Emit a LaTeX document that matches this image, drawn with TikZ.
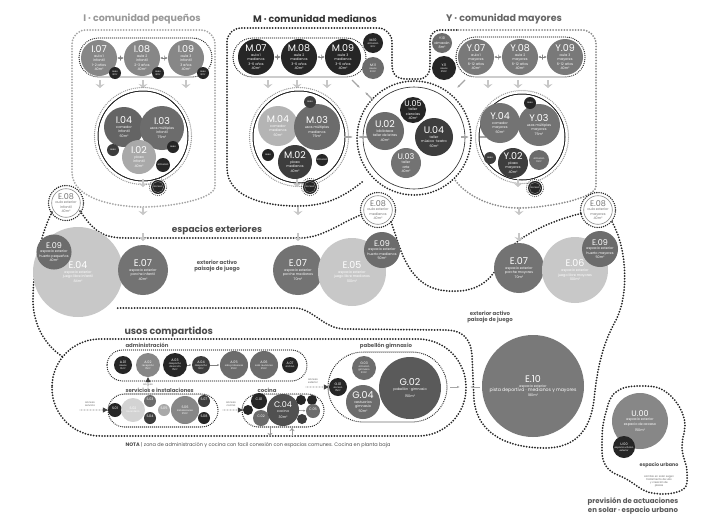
\documentclass[tikz,border=0pt]{standalone}
\usepackage{fontspec}
\setmainfont{Poppins}
\usetikzlibrary{arrows.meta,positioning}
\definecolor{Ink}{HTML}{262626}
\definecolor{Dark}{HTML}{3d3d3d}
\definecolor{Mid}{HTML}{6c6c6c}
\definecolor{Grey}{HTML}{878787}
\definecolor{Light}{HTML}{a9a9a9}
\definecolor{Pale}{HTML}{c8c8c8}
\newcommand{\rlab}[2]{{\fontsize{9.5}{10}\selectfont #1}\\[0.6pt]#2}
\newcommand{\elab}[2]{{\fontsize{8}{8}\selectfont #1}\\[0.4pt]#2}
\newcommand{\slab}[2]{{\fontsize{3.4}{3.8}\selectfont #1}\\#2}
\newcommand{\chev}[2]{\draw[chv] (#1,#2-5) -- (#1,#2+3);}

\begin{document}
\begin{tikzpicture}[x=1pt,y=-1pt,
  room/.style={circle,inner sep=0pt,text=white,align=center,font=\fontsize{3.4}{4.4}\selectfont},
  sm/.style={room,font=\fontsize{2.4}{2.9}\selectfont},
  rad/.style={minimum size=2*#1pt},
  ext/.style={room,fill=white,draw=black!45,line width=0.6pt,text=black!55},
  bnd/.style={draw=Ink,line width=2pt,line cap=round,dash pattern=on 0pt off 2.8pt},
  lbnd/.style={bnd,draw=black!45},
  pil/.style={draw=Ink,line width=1.3pt,line cap=round,dash pattern=on 0pt off 2pt},
  ring/.style={draw=black!40,line width=1.4pt,line cap=round,dash pattern=on 0pt off 2pt},
  chv/.style={-{Stealth[length=4pt,width=9pt]},line width=2pt,draw=black!22},
  link/.style={{Latex[length=2.4pt,width=2.6pt]}-{Latex[length=2.4pt,width=2.6pt]},draw=black!50,line width=0.6pt},
  bar/.style={rectangle,draw=black!50,line width=0.6pt,minimum width=0pt,minimum height=5pt,inner sep=0pt},
  flow/.style={-{Latex[length=3pt]},draw=black!35,line width=1.2pt},
  acc/.style={-{Triangle[length=5pt,width=5pt]},draw=black!75,line width=0.8pt,line cap=round,dash pattern=on 0pt off 1.5pt},
  ttl/.style={font=\fontsize{9.5}{10}\selectfont\bfseries},
  lbl/.style={font=\fontsize{5.4}{6.4}\selectfont\bfseries,text=black!65,align=center},
  tny/.style={font=\fontsize{2.6}{3.1}\selectfont,text=black!60,align=center}
]
\useasboundingbox[fill=white] (0,0) rectangle (701,525);

% ---------- I : comunidad pequenos
\node[ttl,text=black!40] (ttlI) at (142,19) {I · comunidad pequeños};
\draw[lbnd,draw=black!35] (72,172) [rounded corners=14pt] -- (72,30) -- (215,30) -- (215,172) [sharp corners]
  .. controls (215,200) and (168,207) .. (143,207) .. controls (118,207) and (72,200) .. (72,172);
\draw[pil,rounded corners=19.5pt] (79,38) rectangle (212,77);
\node[room,rad=18,fill=Grey] (i07) at (99,58) {\rlab{I.07}{aula 1\\infantil\\1-2 años\\40m²}};
\node[room,rad=18,fill=Grey] (i08) at (142,58) {\rlab{I.08}{aula 2\\infantil\\2-3 años\\40m²}};
\node[room,rad=18,fill=Grey] (i09) at (186,58) {\rlab{I.09}{aula 3\\infantil\\3 años\\40m²}};
\foreach \a/\b in {i07/i08,i08/i09}
  \draw[link] (\a) -- node[bar]{} (\b);
\node[sm,rad=6,fill=Ink] (i10) at (115,73) {aseo\\8m²};
\node[sm,rad=6,fill=Ink] (i11) at (158,73) {aseo\\8m²};
\node[sm,rad=6,fill=Ink] (i12) at (203,73) {aseo\\8m²};
\foreach \x in {100,143,186} \chev{\x}{85}
\draw[Ink,line width=0.5pt] (143,136) circle (45pt);
\draw[ring] (143,136) circle (48.5pt);
\node[room,rad=20,fill=Dark!80] (i04) at (124,127) {\rlab{I.04}{comedor\\infantil\\60m²}};
\node[room,rad=22,fill=Mid] (i03) at (162,128) {\rlab{I.03}{usos múltiples\\infantil\\75m²}};
\node[room,rad=17,fill=Light] (i02) at (139,157) {\rlab{I.02}{plaza\\infantil\\40m²}};
\node[sm,rad=6,fill=Dark] (i05) at (113,150) {aseo};
\node[sm,rad=6,fill=Ink] (i06) at (173,147) {aseo};
\node[sm,rad=7,fill=Ink] (i01) at (163,165) {almacén};
\node[sm,rad=7,fill=Ink] (i13) at (158,187) {acceso};
\draw[white,line width=0.5pt,line cap=round,dash pattern=on 0pt off 1pt] (i13) circle (5.6pt);
\draw[pil,line width=1pt] (i13) circle (8.6pt);
\chev{143}{184}

% ---------- M : comunidad medianos
\node[ttl,text=black!80] (ttlM) at (315,19) {M · comunidad medianos};
\draw[bnd] (362,182) .. controls (340,200) and (322,206) .. (297,206)
  .. controls (262,206) and (227,196) .. (227,168) [rounded corners=14pt] -- (227,28) -- (392,28) [sharp corners]
  -- (392,64) .. controls (392,74) and (396,79) .. (406,79) -- (418,79)
  .. controls (426,79) and (430,74) .. (430,66) [rounded corners=10pt] -- (430,30) -- (458,30);
\draw[pil,rounded corners=19.5pt] (233,38) rectangle (366,77);
\node[room,rad=18,fill=Ink] (m07) at (256,57) {\rlab{M.07}{aula 1\\medianos\\3-6 años\\40m²}};
\node[room,rad=18,fill=Ink] (m08) at (299,57) {\rlab{M.08}{aula 2\\medianos\\3-6 años\\40m²}};
\node[room,rad=18,fill=Ink] (m09) at (343,57) {\rlab{M.09}{aula 3\\medianos\\3-6 años\\40m²}};
\foreach \a/\b in {m07/m08,m08/m09}
  \draw[link] (\a) -- node[bar]{} (\b);
\node[sm,rad=10,fill=Ink] (m10) at (373,43) {\slab{M.10}{almacén\\8m²}};
\node[sm,rad=11,fill=Mid] (m11) at (373,68) {\slab{M.11}{aseos\\20m²}};
\foreach \x in {268,297,327} \chev{\x}{85}
\draw[Ink,line width=0.5pt] (299,137) circle (46pt);
\draw[ring] (299,137) circle (49.5pt);
\node[room,rad=20,fill=Pale!90!black] (m04) at (278,126) {\rlab{M.04}{comedor\\medianos\\60m²}};
\node[room,rad=23,fill=Mid] (m03) at (317,127) {\rlab{M.03}{usos múltiples\\medianos\\75m²}};
\node[room,rad=17,fill=Dark] (m02) at (295,162) {\rlab{M.02}{plaza\\medianos\\40m²}};
\node[sm,rad=6,fill=Dark] (m05) at (310,102) {aseo};
\node[sm,rad=6,fill=Ink] (m06) at (268,155) {aseo};
\node[sm,rad=6,fill=Ink] (m01) at (322,160) {almacén};
\node[sm,rad=7,fill=Ink] (m13) at (310,187) {acceso};
\draw[white,line width=0.5pt,line cap=round,dash pattern=on 0pt off 1pt] (m13) circle (5.6pt);
\draw[pil,line width=1pt] (m13) circle (8.6pt);
\chev{297}{184}

% ---------- U : talleres
\draw[bnd] (414,138) circle (57pt);
\draw[Ink,line width=0.6pt] (414,138) circle (51pt);
\node[room,rad=13,fill=Ink] (u05) at (413,110) {\elab{U.05}{taller\\ciencias\\40m²}};
\node[room,rad=19,fill=Mid] (u02) at (385,131) {\rlab{U.02}{biblioteca\\taller de letras\\40m²}};
\node[room,rad=19,fill=Dark] (u04) at (434,137) {\rlab{U.04}{taller\\música · teatro\\60m²}};
\node[room,rad=15,fill=Grey!85!black] (u03) at (406,163) {\elab{U.03}{taller\\arte\\40m²}};
\draw[flow] (352,80) -- (360,88);
\draw[flow] (373,100) -- (365,92);
\draw[flow] (344,137) -- (353,137);
\draw[flow] (367,137) -- (358,137);
\draw[flow] (461,137) -- (469,137);
\draw[flow] (486,137) -- (478,137);
\draw[flow] (465,80) -- (457,88);

% ---------- Y : comunidad mayores
\node[ttl,text=black!60] (ttlY) at (504,19) {Y · comunidad mayores};
\draw[lbnd] (458,30) [rounded corners=14pt] -- (596,30) -- (596,172) [sharp corners]
  .. controls (596,199) and (545,208) .. (518,208) .. controls (495,208) and (468,198) .. (455,180);
\draw[pil,rounded corners=19.5pt] (456,37) rectangle (585,77);
\node[room,rad=10,fill=Mid] (y10) at (442,43) {\slab{Y.10}{almacén\\8m²}};
\node[room,sm,rad=12,fill=Ink] (y11) at (444,68) {\slab{Y.11}{aseos\\25m²}};
\node[room,rad=18,fill=Grey!90!black] (y07) at (476,57) {\rlab{Y.07}{aula 1\\mayores\\6-12 años\\40m²}};
\node[room,rad=18,fill=Grey!90!black] (y08) at (520,57) {\rlab{Y.08}{aula 2\\mayores\\6-12 años\\40m²}};
\node[room,rad=18,fill=Grey!90!black] (y09) at (565,57) {\rlab{Y.09}{aula 3\\mayores\\6-12 años\\40m²}};
\foreach \a/\b in {y07/y08,y08/y09}
  \draw[link] (\a) -- node[bar]{} (\b);
\foreach \x in {488,518,548} \chev{\x}{85}
\draw[Ink,line width=0.5pt] (522,137) circle (43pt);
\draw[ring] (522,137) circle (46.5pt);
\node[room,rad=20,fill=Grey!85!black] (y04) at (500,123) {\rlab{Y.04}{comedor\\mayores\\60m²}};
\node[room,rad=21,fill=Grey!85!black] (y03) at (539,125) {\rlab{Y.03}{usos múltiples\\mayores\\75m²}};
\node[room,rad=15,fill=Dark] (y02) at (513,163) {\rlab{Y.02}{plaza\\mayores\\40m²}};
\node[sm,rad=6,fill=Ink] (y05) at (530,103) {aseo};
\node[sm,rad=6,fill=Dark] (y06) at (490,158) {aseo};
\node[sm,rad=10,fill=Mid] (y01) at (539,160) {almacén\\10m²};
\node[sm,rad=7,fill=Ink] (y13) at (535,188) {acceso};
\draw[white,line width=0.5pt,line cap=round,dash pattern=on 0pt off 1pt] (y13) circle (5.6pt);
\draw[pil,line width=1pt] (y13) circle (8.6pt);
\chev{518}{184}

% ---------- E : espacios exteriores
\node[ttl,font=\fontsize{9}{10}\selectfont\bfseries,text=black!70] (ttlE) at (217,230) {espacios exteriores};
\draw[bnd] (80,211) .. controls (92,228) and (100,238) .. (125,238) -- (300,238)
  .. controls (322,238) and (338,224) .. (363,214);
\draw[bnd] (391,222) .. controls (399,242) and (405,283) .. (440,290)
  .. controls (472,295) and (490,284) .. (500,262) .. controls (510,240) and (545,222) .. (583,213);
\draw[bnd] (612,222) .. controls (626,246) and (630,292) .. (616,320)
  .. controls (602,345) and (597,370) .. (594,400) .. controls (590,432) and (574,448) .. (545,448)
  .. controls (505,448) and (477,432) .. (474,400) -- (472,356)
  .. controls (471,338) and (462,330) .. (445,330) -- (345,329)
  .. controls (324,329) and (312,308) .. (295,308) -- (116,308);
\draw[bnd] (52,212) .. controls (40,236) and (33,270) .. (33,300) .. controls (33,326) and (46,346) .. (63,357);
\foreach \x/\y in {66/203,378/210,598/210}
  \draw[bnd,line width=1.6pt,dash pattern=on 0pt off 2.2pt] (\x,\y) circle (17.5pt);
\node[ext,rad=14] (e08a) at (66,203) {\elab{E.08}{aula exterior\\infantil\\40m²}};
\node[ext,rad=14] (e08b) at (378,210) {\elab{E.08}{aula exterior\\medianos\\40m²}};
\node[ext,rad=14] (e08c) at (598,210) {\elab{E.08}{aula exterior\\mayores\\40m²}};
\node[room,rad=45,fill=Pale] (e04) at (78,272) {\rlab{E.04}{espacio exterior\\juego libre infantil\\84m²}};
\node[room,rad=17,fill=Mid] (e09a) at (54,252) {\elab{E.09}{espacio exterior\\huerto pequeños\\40m²}};
\node[room,rad=25,fill=Grey!85!black] (e07a) at (143,270) {\rlab{E.07}{espacio exterior\\porche infantil\\40m²}};
\node[lbl] (actA) at (217,266) {exterior activo\\paisaje de juego};
\node[room,rad=25,fill=Grey!85!black] (e07b) at (298,270) {\rlab{E.07}{espacio exterior\\porche medianos\\70m²}};
\node[room,rad=34,fill=Pale] (e05) at (352,272) {\rlab{E.05}{espacio exterior\\juego libre medianos\\100m²}};
\node[room,rad=18,fill=Mid] (e09b) at (382,250) {\elab{E.09}{espacio exterior\\huerto medianos\\50m²}};
\node[room,rad=25,fill=Grey!85!black] (e07c) at (519,268) {\rlab{E.07}{espacio exterior\\porche mayores\\70m²}};
\node[room,rad=33,fill=Pale] (e06) at (575,270) {\rlab{E.06}{espacio exterior\\juego libre mayores\\100m²}};
\node[room,rad=18,fill=Mid] (e09c) at (600,249) {\elab{E.09}{espacio exterior\\huerto mayores\\50m²}};
\foreach \x in {143,298,519} {\chev{\x}{212} \chev{\x}{238}}
\node[lbl] (actB) at (490,317) {exterior activo\\paisaje de juego};
\node[room,rad=51,fill=Grey!90!black] (e10) at (533,386) {{\fontsize{9.5}{10}\selectfont E.10}\\[0.6pt]espacio exterior\\{\fontsize{4.6}{5.4}\selectfont pista deportiva · medianos y mayores}\\180m²};

% ---------- espacio urbano
\draw[bnd] plot[smooth cycle,tension=0.7] coordinates {(606,412) (616,392) (640,386) (666,392) (684,418) (682,448) (687,472) (682,490) (652,493) (628,480) (606,466) (602,440)};
\node[room,rad=28,fill=Grey] (u00) at (640,421) {\elab{U.00}{espacio exterior\\espacio de acceso\\[2pt]150m²}};
\node[sm,rad=11,fill=Ink] (u00b) at (624,447) {\slab{U.00}{espacio urbano\\exterior}};
\node[font=\fontsize{4.8}{5}\selectfont\bfseries,text=black!70] (urb) at (659,465) {espacio urbano};
\node[tny,below=0.5pt of urb] (urbt) {cambio en solar según\\tratamiento de vías\\y creación de\\plazas};
\node[font=\fontsize{7}{8.6}\selectfont\bfseries,text=black!65,align=center] (prev) at (633,506) {previsión de actuaciones\\en solar · espacio urbano};

% ---------- usos compartidos
\node[ttl,anchor=west,text=black!70] (ttlU) at (121,332) {usos compartidos};
\draw[bnd,rounded corners=48pt] (52,339) rectangle (466,436);
\node[lbl,anchor=west,font=\fontsize{5.4}{6}\selectfont\bfseries] (adm) at (122,345) {administración};
\draw[pil,rounded corners=15.5pt] (107,350) rectangle (307,381);
\node[sm,rad=9,fill=Ink] (a01) at (123,365) {\slab{A.01}{aseos\\10m²}};
\node[sm,rad=12,fill=Grey] (a02) at (148,365) {\slab{A.02}{recepción\\15m²}};
\node[sm,rad=12,fill=Ink] (a03) at (175,365) {\slab{A.03}{despacho\\dirección\\15m²}};
\node[sm,rad=9,fill=Dark] (a04) at (201,365) {\slab{A.04}{despacho\\12m²}};
\node[sm,rad=14,fill=Mid] (a05) at (234,365) {\slab{A.05}{sala profesores\\25m²}};
\node[sm,rad=14,fill=Mid] (a06) at (264,365) {\slab{A.06}{sala reuniones\\25m²}};
\node[sm,rad=8,fill=Ink] (a07) at (290,365) {\slab{A.07}{archivo}};
\foreach \a/\b in {a03/a04,a04/a05}
  \draw[-{Latex[length=2.4pt]},draw=black!50,line width=0.6pt] (\a) -- (\b);
\coordinate (admIn) at (148,390);
\draw[acc] (admIn) -- (a02);
\node[tny] (admT) at (148,385) {acceso};

\node[lbl,anchor=west,font=\fontsize{5.4}{6}\selectfont\bfseries] (srv) at (122,390) {servicios e instalaciones};
\draw[pil,rounded corners=16.5pt] (108,394) rectangle (218,427);
\node[sm,rad=7,fill=Ink] (s01) at (115,410) {\slab{S.01}{}};
\node[sm,rad=12,fill=Pale!80!white] (s02) at (133,410) {\slab{S.02}{lavandería}};
\node[sm,rad=6,fill=Mid] (s03) at (150,401) {\slab{S.03}{}};
\node[sm,rad=6,fill=Dark] (s04) at (150,418) {\slab{S.04}{}};
\node[sm,rad=6,fill=Light] (s05) at (164,410) {\slab{S.05}{}};
\node[sm,rad=14,fill=Grey] (s06) at (185,410) {\slab{S.06}{instalaciones\\25m²}};
\node[sm,rad=6,fill=Dark] (s07) at (204,401) {\slab{S.07}{}};
\node[sm,rad=6,fill=Ink] (s08) at (204,418) {\slab{S.08}{}};
\coordinate (srvIn) at (80,410);
\draw[acc] (srvIn) -- (s01);
\node[tny] (srvT) at (90,404) {acceso\\servicio};

\node[lbl,font=\fontsize{5.4}{6}\selectfont\bfseries] (coc) at (267,390) {cocina};
\draw[pil,rounded corners=16.5pt] (242,394) rectangle (324,427);
\node[sm,rad=5,fill=Ink] (c01) at (248,410) {};
\node[sm,rad=8,fill=Ink] (c02) at (259,401) {\slab{C.01}{}};
\node[sm,rad=8,fill=Mid] (c03) at (261,418) {\slab{C.02}{}};
\node[room,rad=16,fill=Dark!90!white] (c04) at (283,410) {\elab{C.04}{cocina\\[1pt]30m²}};
\node[sm,rad=5,fill=Ink] (c05) at (301,400) {};
\node[sm,rad=5,fill=Ink] (c06) at (312,400) {};
\node[sm,rad=7,fill=Mid] (c07) at (313,411) {\slab{C.05}{}};
\node[sm,rad=5,fill=Dark] (c08) at (302,419) {};
\draw[-{Latex[length=2.4pt]},draw=black!50,line width=0.6pt] (c04) -- (c07);
\coordinate (cocIn) at (223,410);
\draw[acc] (cocIn) -- (c01);
\node[tny] (cocT) at (231,404) {acceso\\cocina};
\draw[-{Stealth[length=3pt,width=5pt]},draw=black!40,line width=0.8pt] (270,428) -- (270,436);
\draw[-{Stealth[length=3pt,width=5pt]},draw=black!40,line width=0.8pt] (292,436) -- (292,428);

\node[lbl,font=\fontsize{5.4}{6}\selectfont\bfseries] (pab) at (386,346) {pabellón gimnasio};
\draw[pil,rounded corners=35pt] (328,352) rectangle (447,422);
\node[sm,rad=9,fill=Ink] (g01) at (338,387) {\slab{G.01}{acceso\\15m²}};
\node[sm,rad=12,fill=Mid] (g03) at (364,368) {\slab{G.03}{almacén\\gimnasio\\20m²}};
\node[room,rad=17,fill=Mid] (g04) at (363,402) {\rlab{G.04}{vestuarios\\gimnasio\\50m²}};
\node[room,rad=31,fill=Dark!85!white] (g02) at (410,388) {\rlab{G.02}{pabellón · gimnasio\\[3pt]150m²}};
\coordinate (pabIn) at (306,387);
\draw[acc] (pabIn) -- (g01);
\node[tny] (pabT) at (313,381) {acceso\\exterior};
\draw[flow,line width=1pt] (450,387) -- (460,387);
\draw[flow,line width=1pt] (480,387) -- (470,387);

\node[anchor=west,font=\fontsize{5}{6}\selectfont,text=black!70] (nota) at (122,445)
  {\textbf{NOTA} | zona de administración y cocina con facil conexión con espacios comunes. Cocina en planta baja};
\end{tikzpicture}
\end{document}
